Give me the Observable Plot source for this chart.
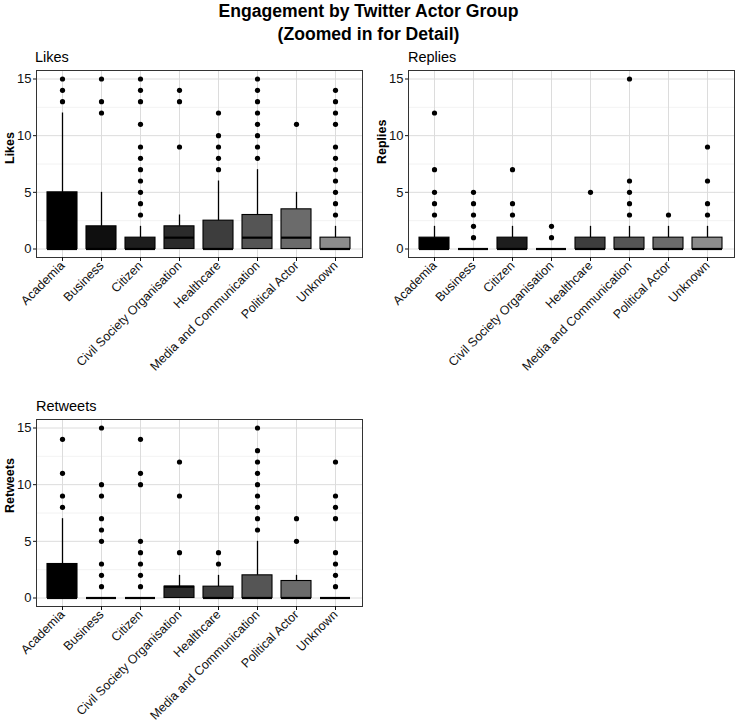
<!DOCTYPE html>
<html>
<head>
<meta charset="utf-8">
<script src="https://cdn.jsdelivr.net/npm/d3@7"></script>
<script src="https://cdn.jsdelivr.net/npm/@observablehq/plot@0.6"></script>
<style>
  html, body { margin: 0; padding: 0; background: white; }
  body { width: 737px; height: 724px; position: relative; overflow: hidden; font-family: "Liberation Sans", Arial, sans-serif; }
  #title { position: absolute; left: 0; top: 0; width: 737px; text-align: center; font-weight: bold; font-size: 17.6px; line-height: 23px; color: #000; z-index: 2; }
  .ftitle { position: absolute; font-size: 14.5px; color: #000; line-height: 16px; z-index: 2; }
  .panel { position: absolute; z-index: 1; }
</style>
</head>
<body>
<div class="panel" id="likes" style="left:0px; top:45px;"></div>
<div class="panel" id="replies" style="left:372px; top:45px;"></div>
<div class="panel" id="retweets" style="left:0px; top:394px;"></div>
<div id="title">Engagement by Twitter Actor Group<br>(Zoomed in for Detail)</div>
<div class="ftitle" style="left:35px; top:49px;">Likes</div>
<div class="ftitle" style="left:408px; top:49px;">Replies</div>
<div class="ftitle" style="left:36px; top:398px;">Retweets</div>
<script>
// ---- data ----
const groups = ["Academia", "Business", "Citizen", "Civil Society Organisation", "Healthcare", "Media and Communication", "Political Actor", "Unknown"];
const groupFills = ["#000000", "#0f0f0f", "#1d1d1d", "#2b2b2b", "#3d3d3d", "#555555", "#6b6b6b", "#8c8c8c"];
const yTicks = [0, 5, 10, 15];

// Likes
const likesQ1 = [0, 0, 0, 0, 0, 0, 0, 0];
const likesMedian = [0, 0, 0, 1, 0, 1, 1, 0];
const likesQ3 = [5, 2, 1, 2, 2.5, 3, 3.5, 1];
const likesUpper = [12, 5, 2, 3, 6, 7, 5, 2];
const likesOutliers = [
  [13, 14, 15],
  [12, 13, 15],
  [3, 4, 5, 6, 7, 8, 9, 11, 13, 14, 15],
  [9, 13, 14],
  [7, 8, 9, 10, 12],
  [8, 9, 10, 11, 12, 13, 14, 15],
  [11],
  [3, 4, 5, 6, 7, 8, 9, 11, 12, 13, 14]
];

// Replies
const repliesQ1 = [0, 0, 0, 0, 0, 0, 0, 0];
const repliesMedian = [0, 0, 0, 0, 0, 0, 0, 0];
const repliesQ3 = [1, 0, 1, 0, 1, 1, 1, 1];
const repliesUpper = [2, 0, 2, 0, 2, 2, 2, 2];
const repliesOutliers = [
  [3, 4, 5, 7, 12],
  [1, 2, 3, 4, 5],
  [3, 4, 7],
  [1, 2],
  [5],
  [3, 4, 5, 6, 15],
  [3],
  [3, 4, 6, 9]
];

// Retweets
const retweetsQ1 = [0, 0, 0, 0, 0, 0, 0, 0];
const retweetsMedian = [0, 0, 0, 1, 0, 0, 0, 0];
const retweetsQ3 = [3, 0, 0, 1, 1, 2, 1.5, 0];
const retweetsUpper = [7, 0, 0, 2, 2, 5, 2, 0];
const retweetsOutliers = [
  [8, 9, 11, 14],
  [1, 2, 3, 5, 6, 7, 9, 10, 15],
  [1, 2, 3, 4, 5, 10, 11, 14],
  [4, 9, 12],
  [3, 4],
  [6, 7, 8, 9, 10, 11, 12, 13, 15],
  [5, 7],
  [1, 2, 3, 4, 7, 8, 9, 12]
];

function panel(yLabel, q1, med, q3, upper, outliers, width) {
  const rows = groups.map((g, i) => ({group: g, q1: q1[i], med: med[i], q3: q3[i], upper: upper[i]}));
  const whiskers = rows.filter(d => d.upper > d.q3);
  const pts = [];
  groups.forEach((g, i) => outliers[i].forEach(v => pts.push({group: g, value: v})));
  const plotH = 187, marginTop = 25, marginBottom = 115;
  return Plot.plot({
    width: width,
    height: marginTop + plotH + marginBottom,
    marginLeft: 36,
    marginRight: width - 36 - 326,
    marginTop: marginTop,
    marginBottom: marginBottom,
    style: {fontFamily: "'Liberation Sans', Arial, sans-serif", fontSize: "12.5px", color: "#111", background: "transparent", overflow: "visible"},
    x: {domain: groups, paddingInner: 0.22, paddingOuter: 0.21, label: null},
    y: {domain: [-0.75, 15.75], label: null},
    color: {domain: groups, range: groupFills},
    marks: [
      Plot.ruleY([2.5, 7.5, 12.5], {stroke: "#efefef", strokeWidth: 0.8}),
      Plot.ruleY(yTicks, {stroke: "#dcdcdc", strokeWidth: 1}),
      Plot.ruleX(groups, {x: d => d, stroke: "#dcdcdc", strokeWidth: 1}),
      Plot.ruleX(whiskers, {x: "group", y1: "q3", y2: "upper", stroke: "#000", strokeWidth: 1.3}),
      Plot.barY(rows, {x: "group", y1: "q1", y2: "q3", fill: "group", stroke: "#000", strokeWidth: 1.1}),
      Plot.tickY(rows, {x: "group", y: "med", stroke: "#000", strokeWidth: 2.2}),
      Plot.dot(pts, {x: "group", y: "value", r: 2.6, fill: "#000", stroke: null}),
      Plot.frame({stroke: "#333", strokeWidth: 1}),
      Plot.axisY({ticks: 4, tickSize: 3, tickPadding: 2, label: null, fontSize: 13, color: "#111"}),
      Plot.axisX({tickRotate: -45, tickSize: 4, tickPadding: 2, label: null, fontSize: 12.5, color: "#111"}),
      Plot.text([yLabel], {text: d => d, frameAnchor: "left", rotate: -90, dx: -27, fontWeight: "bold", fontSize: 12.5, fill: "#000"})
    ]
  });
}

document.getElementById("likes").appendChild(panel("Likes", likesQ1, likesMedian, likesQ3, likesUpper, likesOutliers, 368));
document.getElementById("replies").appendChild(panel("Replies", repliesQ1, repliesMedian, repliesQ3, repliesUpper, repliesOutliers, 365));
document.getElementById("retweets").appendChild(panel("Retweets", retweetsQ1, retweetsMedian, retweetsQ3, retweetsUpper, retweetsOutliers, 368));
</script>
</body>
</html>
